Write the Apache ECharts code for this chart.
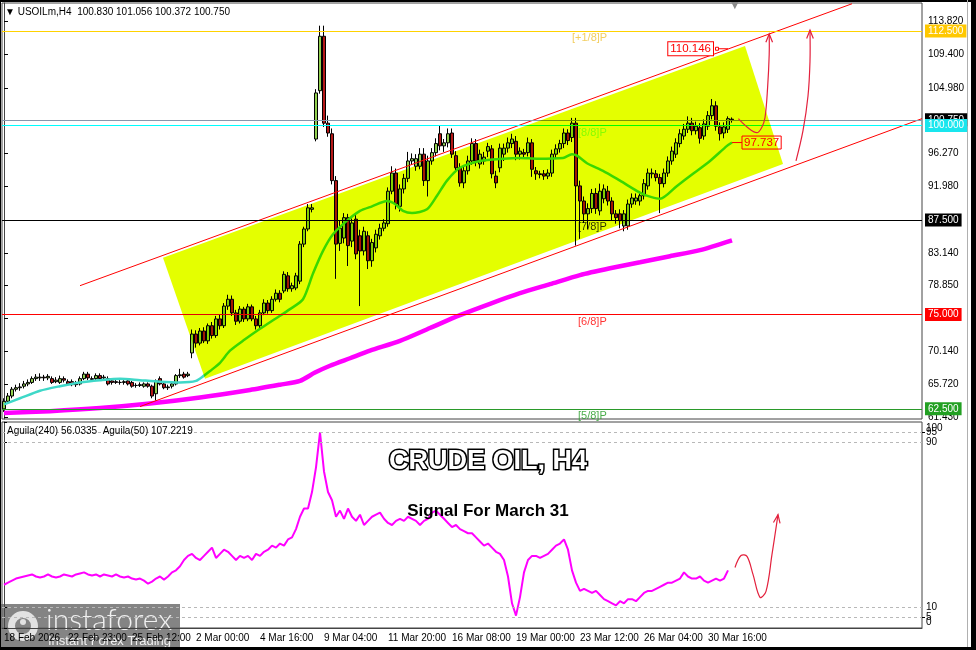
<!DOCTYPE html>
<html>
<head>
<meta charset="utf-8">
<script src="https://cdn.jsdelivr.net/npm/echarts@6/dist/echarts.min.js"></script>
<style>
  html, body { margin: 0; padding: 0; background: #fff; }
  #oilChart { width: 976px; height: 650px; }
</style>
</head>
<body>
<div id="oilChart"></div>
<script>
// ---- data ----
const slotCount = 230; // H4 bars that fit in the window, the last ~47 are empty (chart shift)

// [open, close, low, high]
const candles = [
  [62.5,63.5,62.1,63.9],[63.5,64.2,63.3,64.6],[64.2,65.1,63.9,65.4],[65.1,65.3,64.8,65.7],[65.3,65.4,64.9,65.9],
  [65.5,65.8,65.2,66.2],[65.8,66.0,65.5,66.4],[66.0,66.5,65.8,66.8],[66.5,66.7,66.2,67.1],[66.6,66.7,66.2,67.2],
  [66.7,66.6,66.2,67.0],[66.6,66.8,66.3,67.1],[66.5,66.0,65.8,66.8],[66.1,66.3,65.9,66.7],[66.0,66.5,65.8,66.9],
  [66.5,66.3,66.0,66.8],[66.1,65.8,65.6,66.4],[66.1,65.7,65.5,66.4],[65.8,65.7,65.4,66.2],[65.8,66.5,65.6,66.8],
  [66.5,67.1,66.3,67.4],[67.1,66.6,66.3,67.4],[66.5,66.4,66.1,66.8],[66.5,66.9,66.3,67.2],[66.9,66.5,66.3,67.2],
  [66.6,66.7,66.3,67.0],[66.5,65.8,65.6,66.8],[66.2,66.0,65.7,66.5],[66.1,66.0,65.8,66.4],[66.0,66.0,65.7,66.3],
  [66.0,66.1,65.7,66.3],[66.2,65.8,65.6,66.5],[66.0,65.5,65.3,66.2],[65.6,65.6,65.3,65.9],[65.6,65.7,65.4,66.0],
  [65.5,65.8,65.3,66.0],[65.8,65.5,65.3,66.0],[65.5,64.2,63.9,65.7],[64.5,66.2,63.6,66.4],[66.5,65.8,65.6,66.8],
  [65.8,65.3,65.1,66.0],[65.3,65.4,65.0,65.7],[65.5,65.8,65.2,66.0],[65.8,66.9,65.6,67.1],[66.9,67.0,66.6,67.8],
  [67.1,66.7,66.5,67.4],[66.9,67.1,66.7,67.4],
  [69.9,72.4,69.2,73.0],[72.4,71.2,70.6,72.9],[71.2,72.8,70.9,73.2],[72.8,71.5,71.2,73.3],[71.5,73.5,71.1,73.8],
  [73.5,72.2,71.8,74.0],[72.2,74.4,71.9,74.8],[74.4,73.5,73.0,75.0],[73.5,76.1,73.2,76.5],[76.1,77.0,75.6,77.6],
  [77.0,75.2,74.8,77.5],[75.2,74.1,73.6,75.6],[74.1,75.7,73.8,76.1],[75.7,74.4,74.0,76.0],[74.4,76.0,74.1,76.4],
  [76.0,74.4,74.1,76.3],[74.4,73.5,73.0,74.8],[73.5,75.2,73.2,75.6],[75.2,76.5,74.9,77.0],[76.5,75.5,75.1,76.9],
  [75.5,77.0,75.2,77.4],[77.0,77.8,76.7,78.3],[77.8,77.0,76.6,78.2],[78.1,80.3,77.8,80.7],[80.1,78.4,78.0,80.6],
  [78.4,78.8,78.0,79.2],[78.5,80.1,78.2,80.5],[79.4,84.3,79.0,84.7],[84.3,86.3,83.9,86.6],[86.3,89.1,86.0,89.6],
  [88.9,89.1,88.5,89.6],
  [98.2,104.3,97.9,104.8],[104.6,111.8,104.2,113.2],[111.8,100.3,99.8,113.2],[100.3,99.0,98.5,101.3],[98.9,92.7,92.2,99.6],
  [92.7,84.3,79.7,93.3],[84.4,86.4,83.4,87.4],[85.1,87.8,84.4,88.4],[87.8,84.1,81.4,88.3],[84.7,87.1,83.9,87.7],
  [87.6,83.0,82.3,88.2],[85.4,83.4,76.1,86.2],[83.4,86.0,82.8,86.6],[85.4,82.1,81.0,86.0],[82.1,84.5,81.3,85.0],
  [83.8,85.6,83.2,86.2],[85.4,86.4,84.9,87.0],[86.4,87.1,86.0,87.6],[87.0,91.3,86.6,91.8],[91.3,93.7,90.9,94.6],
  [93.7,89.6,88.9,94.3],[89.3,91.6,88.6,92.2],[91.6,93.0,91.0,93.6],[93.0,95.3,92.5,96.5],[95.3,95.6,94.8,96.3],
  [94.6,95.6,94.0,96.2],[94.6,96.2,94.2,97.0],[96.2,92.7,92.0,97.0],[92.7,95.3,90.6,96.0],[95.3,96.4,94.8,97.0],
  [96.4,97.6,95.9,98.3],[98.9,97.3,96.7,100.0],[97.3,97.7,96.5,98.2],[97.7,98.9,97.1,99.6],[99.0,96.2,95.7,99.6],
  [96.0,94.4,93.8,96.6],[94.4,92.4,91.9,95.0],[92.4,94.0,91.7,94.6],[94.0,95.3,93.5,96.0],[95.3,97.6,94.8,98.3],
  [97.6,95.3,94.6,98.2],[94.9,96.2,94.3,96.8],[95.3,95.8,94.8,96.5],[96.6,97.2,95.8,97.7],[96.9,93.6,93.0,97.4],
  [93.3,92.4,91.7,94.0],[94.4,97.0,93.8,97.6],[96.2,97.0,95.3,97.6],[97.0,97.7,96.4,98.4],[97.6,98.2,97.0,98.9],
  [97.9,96.2,95.4,98.6],[96.2,96.6,95.5,97.1],[96.4,96.2,95.6,96.9],[96.4,97.7,95.9,98.4],[97.7,94.2,93.2,98.2],
  [94.0,93.6,92.8,94.5],[93.6,93.5,93.0,94.0],[93.6,93.3,92.8,94.1],[93.3,93.7,92.9,94.2],[93.7,96.2,93.2,96.8],
  [96.2,96.9,95.6,97.5],[96.9,97.6,96.4,98.1],[97.6,99.0,97.0,99.6],[99.0,98.0,97.4,99.5],[98.4,100.3,97.8,101.0],
  [100.3,92.0,84.1,101.0],[92.0,90.0,85.0,92.7],[90.0,88.3,87.1,90.6],[88.3,89.0,86.3,89.7],[89.0,91.0,88.4,91.6],
  [91.0,89.0,88.3,91.7],[88.7,91.3,88.1,92.3],[90.3,91.6,89.7,92.2],[91.3,90.0,89.4,92.0],[90.0,88.3,87.4,90.5],
  [88.3,87.8,87.0,88.8],[88.3,87.4,86.4,88.9],[86.7,88.3,86.0,88.8],[86.7,89.6,86.2,90.2],[89.6,90.4,89.1,91.0],
  [90.0,90.4,89.5,91.0],[90.0,90.7,89.4,91.3],[90.7,92.3,90.2,92.9],[92.0,93.7,91.5,94.3],[93.6,93.7,93.0,94.3],
  [93.6,93.1,92.6,94.1],[93.1,92.3,88.4,93.6],[92.3,93.7,91.8,94.3],[93.7,95.3,93.2,95.9],[95.3,96.6,94.8,97.2],
  [96.2,97.7,95.7,98.3],[97.6,98.9,97.1,99.5],[98.6,99.5,98.1,100.2],[99.5,100.3,99.0,101.2],[100.3,99.3,98.7,101.0],
  [99.3,99.9,98.8,100.5],[99.7,98.3,97.6,100.3],[98.6,100.2,98.1,100.8],[99.9,101.3,99.4,101.9],[101.3,102.6,100.8,103.5],
  [102.6,99.9,99.3,103.2],[99.8,98.9,98.0,100.4],[99.0,99.8,98.3,100.4],[99.5,100.9,99.0,101.2],[100.83,100.75,100.37,101.06]
];

// Aguila oscillator, one value per bar
const aguila = [
  21,22,23,24,24.5,25,25.5,26,25,24.5,
  25,26,25,24.5,25,26,25.5,25,26,26.5,
  27,26,25.5,26,25,26,25.5,25,26,25,
  24.5,25,24,23.5,24,23,21.5,22.5,24,25,
  23.5,25,27,28,30,33,35,
  36,34,33,35,37,39,34,36,38,37,
  35,33,35,34,35,33,36,35,37,38,
  40,39,41,40,43,44,48,54,58,58,
  66,78,95,76,66,62,54,57,53,58,
  54,52,55,50,52,54,55,56,53,51,
  50,52,53,52,54,53,52,50,52,53,
  56,57,55,53,51,49,50,48,47,46,
  46,44,42,40,41,39,37,36,33,25,
  12,6,15,27,33,35,35,34,35,36,
  38,40,41,43,38,28,22,18,19,18,
  17,18,16,14,13,12,11,13,12,14,
  14,13,15,17,18,18,19,20,21,22,
  22,23,24,27,25,24,24,25,23,22,
  23,24,23,24,28
];

// moving averages, [bar index, price]
const maFast = [
  [0,63.1],[4,63.9],[9,64.9],[14,65.5],[19,66.0],[24,66.3],[29,66.5],[34,66.3],[39,66.1],[44,66.0],
  [48,66.2],[50,66.9],[51.5,67.5],[54,68.6],[56.5,70.2],[60.25,71.7],[64,73.1],[67.75,74.4],[71.5,75.7],
  [74.75,77.0],[77.25,80.4],[79.75,83.4],[82.25,85.6],[85.75,87.4],[89,88.7],[92,89.3],[95.75,90.0],
  [97.75,89.6],[99.75,88.7],[102,88.4],[105.75,88.9],[108.25,90.7],[110.75,92.7],[114,94.4],[119,95.3],
  [124.75,95.6],[129,95.7],[133.25,95.6],[139.75,95.7],[142,96.2],[143.25,96.0],[145.75,95.0],[149.75,94.0],
  [154,92.7],[159.75,90.9],[164,90.3],[168.25,92.0],[172.25,93.6],[176.5,95.3],[180.75,97.3],[182,97.737]
];
const ma200 = [
  [0,61.97],[11.5,62.2],[24,62.6],[36.5,63.2],[49,64.0],[61.5,65.0],[69,65.7],[74,66.2],[77.75,67.3],
  [81.5,68.2],[86.5,69.2],[91.5,70.2],[99,71.5],[106.5,73.2],[114,74.9],[121.5,76.4],[129,77.8],
  [136.5,79.0],[144,80.2],[151.5,81.1],[159,81.9],[166.5,82.7],[174,83.5],[182,84.8]
];

// trend channel, [bar index, price]
const channelTop = [[19,78.8],[212,116.1]];
const channelBottom = [[34,62.8],[229.5,100.9]];
const channelBox = [[39.75,82.5],[185.25,110.5],[194.75,94.9],[50.25,66.5]];

// Murrey levels and prices
const murreyLevels = [112.5, 100.0, 87.5, 75.0, 62.5];
const murreyNames = ['[+1/8]P', '[8/8]P', '[7/8]P', '[6/8]P', '[5/8]P'];
const lastPrice = 100.75;
const targetPrice = 110.146;
const maLastPrice = 97.737;

// forecast arrows, [bar index, value]
const arrowMain1 = [[183.6,100.89],[185.75,99.8],[188.2,99.04],[189.4,99.7],[190.25,101.03],[190.9,105.0],[191.3,109.4],[191.3,112.1]];
const arrowMain2 = [[198,95.3],[199.75,99.3],[201,103.9],[201.5,108.5],[201.5,112.6]];
const arrowOsc = [[182.75,29.4],[184.25,35.2],[185.75,34.8],[187.25,26.0],[189,14.9],[190.5,17.8],[192,35.7],[193.5,55.0]];

// axis ticks
const priceTicks = [61.43, 65.72, 70.14, 74.43, 78.85, 83.14, 91.98, 96.27, 104.98, 109.40, 113.82];
const oscTicksMain = [0, 10, 90, 100];
const oscTicksInner = [5, 95];
const oscLevels = [5, 10, 90, 95];
const timeTickIndex = [0, 16, 32, 48, 64, 80, 96, 112, 128, 144, 160, 176];
const timeTickLabels = ['18 Feb 2026', '22 Feb 23:00', '25 Feb 12:00', '2 Mar 00:00', '4 Mar 16:00', '9 Mar 04:00',
  '11 Mar 20:00', '16 Mar 08:00', '19 Mar 00:00', '23 Mar 12:00', '26 Mar 04:00', '30 Mar 16:00'];

// ---- styles ----
const FONT = 'Liberation Sans';
const BULL = '#92d050';
const BEAR = '#b41818';
const CHANNEL_FILL = '#e4ff00';
const ARROW = '#e3213d';
const levelLine = ['#ffd200', '#00ffff', '#000000', '#ff0000', '#2a9a2a'];
const levelBox = ['#ffc800', '#19e6ee', '#000000', '#ff0000', '#23a023'];
const levelText = ['#efc23a', '#7cfc00', '#000000', '#ff0000', '#1f9a1f'];
const NAME_X = 143.5;

const chart = echarts.init(document.getElementById('oilChart'));
const slots = Array.from({ length: slotCount }, (_, i) => i);
const isTimeTick = (i) => timeTickIndex.indexOf(i) >= 0;

function arrowSeries(points, xAxisIndex, yAxisIndex) {
  return {
    type: 'custom',
    xAxisIndex, yAxisIndex,
    silent: true,
    z: 25,
    data: [points[0]],
    renderItem: (params, api) => {
      const pts = points.map((p) => api.coord(p));
      const tip = pts[pts.length - 1];
      const prev = pts[pts.length - 2];
      const ang = Math.atan2(tip[1] - prev[1], tip[0] - prev[0]);
      const wing = (s) => [tip[0] - 9 * Math.cos(ang + s), tip[1] - 9 * Math.sin(ang + s)];
      return {
        type: 'group',
        children: [
          { type: 'polyline', shape: { points: pts, smooth: 0.35 }, style: { stroke: ARROW, lineWidth: 1.2, fill: null } },
          { type: 'polyline', shape: { points: [wing(0.38), tip, wing(-0.38)] }, style: { stroke: ARROW, lineWidth: 1.2, fill: null } }
        ]
      };
    }
  };
}

const levelMarks = [];
murreyLevels.forEach((v, i) => {
  levelMarks.push({
    yAxis: v,
    lineStyle: { color: levelLine[i], width: 1, type: 'solid' },
    label: { backgroundColor: levelBox[i] }
  });
  if (i === 0) {
    levelMarks.push({
      yAxis: lastPrice,
      lineStyle: { color: '#8796ab', width: 1, type: 'solid' },
      label: { backgroundColor: '#000' }
    });
  }
});

const oscAxisBase = {
  gridIndex: 1, type: 'value', position: 'right', min: 0, max: 100,
  splitLine: { show: false }
};

const option = {
  backgroundColor: '#fff',
  animation: false,
  textStyle: { fontFamily: FONT },
  title: [
    { text: '\u25BC USOILm,H4  100.830 101.056 100.372 100.750', left: 5, top: 7, padding: 0,
      textStyle: { fontSize: 10, fontWeight: 'normal', color: '#000', fontFamily: FONT } },
    { text: 'Aguila(240) 56.0335  Aguila(50) 107.2219', left: 7, top: 426, padding: 0,
      textStyle: { fontSize: 10, fontWeight: 'normal', color: '#000', fontFamily: FONT } },
    { text: 'CRUDE OIL, H4', left: 'center', top: 448, padding: 0,
      textStyle: { fontSize: 27, fontWeight: 'bold', color: '#fff', fontFamily: FONT, textBorderColor: '#000', textBorderWidth: 3 } },
    { text: 'Signal For March 31', left: 'center', top: 503, padding: 0,
      textStyle: { fontSize: 17, fontWeight: 'bold', color: '#000', fontFamily: FONT } }
  ],
  grid: [
    { left: 2, top: 3, width: 920, height: 416, show: true, borderColor: '#444', borderWidth: 1 },
    { left: 2, top: 422, width: 920, height: 206, show: true, borderColor: '#444', borderWidth: 1 }
  ],
  xAxis: [
    { gridIndex: 0, type: 'category', data: slots, boundaryGap: true, show: false },
    { gridIndex: 0, type: 'value', min: -0.5, max: slotCount - 0.5, show: false },
    { gridIndex: 1, type: 'category', data: slots, boundaryGap: true,
      axisLine: { lineStyle: { color: '#444' } },
      axisTick: { interval: isTimeTick, alignWithLabel: true, length: 4, lineStyle: { color: '#000' } },
      axisLabel: { interval: isTimeTick, align: 'left', color: '#000', fontSize: 10, margin: 5,
        formatter: (v, i) => timeTickLabels[timeTickIndex.indexOf(i)] || '' },
      splitLine: { show: false } },
    { gridIndex: 1, type: 'value', min: -0.5, max: slotCount - 0.5, show: false }
  ],
  yAxis: [
    { gridIndex: 0, type: 'value', position: 'right', min: 61.16, max: 116.2,
      axisLine: { show: true, lineStyle: { color: '#444' } },
      axisTick: { show: true, length: 4, customValues: priceTicks, lineStyle: { color: '#000' } },
      axisLabel: { customValues: priceTicks, formatter: (v) => v.toFixed(3), color: '#000', fontSize: 10, margin: 6,
        showMinLabel: true, showMaxLabel: true, hideOverlap: false },
      splitLine: { show: false } },
    Object.assign({}, oscAxisBase, {
      axisLine: { show: true, lineStyle: { color: '#444' } },
      axisTick: { show: true, length: 3, customValues: oscTicksMain, lineStyle: { color: '#000' } },
      axisLabel: { customValues: oscTicksMain, color: '#000', fontSize: 10, margin: 4,
        showMinLabel: true, showMaxLabel: true, hideOverlap: false,
        formatter: (v) => (v === 100 ? '{top|100}' : v === 0 ? '{bot|0}' : String(v)),
        rich: { top: { padding: [12, 0, 0, 0], fontSize: 10 }, bot: { padding: [0, 0, 12, 0], fontSize: 10 } } }
    }),
    Object.assign({}, oscAxisBase, {
      axisLine: { show: false },
      axisTick: { show: true, length: 3, customValues: oscTicksInner, lineStyle: { color: '#000' } },
      axisLabel: { customValues: oscTicksInner, color: '#000', fontSize: 10, margin: 4,
        showMinLabel: true, showMaxLabel: true, hideOverlap: false }
    })
  ],
  series: [
    {
      name: 'USOILm', type: 'candlestick', xAxisIndex: 0, yAxisIndex: 0, z: 3,
      barWidth: 3, data: candles, silent: true,
      itemStyle: { color: BULL, color0: BEAR, borderColor: '#000', borderColor0: '#000', borderWidth: 1 },
      markLine: {
        silent: true, symbol: ['none', 'none'], animation: false,
        label: { show: true, position: 'end', distance: 3, color: '#fff', fontSize: 10, fontFamily: FONT,
          padding: [2, 3, 1, 3], formatter: (p) => p.value.toFixed(3) },
        data: levelMarks
      }
    },
    { name: 'MA fast', type: 'line', xAxisIndex: 1, yAxisIndex: 0, data: maFast, smooth: 0.25,
      symbol: 'none', lineStyle: { color: '#3fd8c8', width: 2.5 }, silent: true, z: 4 },
    { name: 'MA 200', type: 'line', xAxisIndex: 1, yAxisIndex: 0, data: ma200, smooth: 0.25,
      symbol: 'none', lineStyle: { color: '#ff00ff', width: 4.5 }, silent: true, z: 4 },
    { type: 'line', xAxisIndex: 1, yAxisIndex: 0, data: channelTop, symbol: 'none',
      lineStyle: { color: '#ff0000', width: 1 }, silent: true, z: 4 },
    { type: 'line', xAxisIndex: 1, yAxisIndex: 0, data: channelBottom, symbol: 'none',
      lineStyle: { color: '#ff0000', width: 1 }, silent: true, z: 4 },
    { type: 'scatter', xAxisIndex: 1, yAxisIndex: 0, symbolSize: 0, silent: true, z: 4,
      data: murreyLevels.map((v, i) => ({ value: [i === 0 ? NAME_X - 1.5 : NAME_X, v], name: murreyNames[i],
        label: { color: levelText[i] } })),
      label: { show: true, position: [0, 2], align: 'left', verticalAlign: 'top', fontSize: 11, fontFamily: FONT,
        formatter: (p) => p.name } },
    {
      type: 'custom', xAxisIndex: 1, yAxisIndex: 0, silent: true, z: 20, data: [channelBox[0]],
      blendMode: 'multiply',
      renderItem: (params, api) => ({
        type: 'polygon',
        shape: { points: channelBox.map((p) => api.coord(p)) },
        style: { fill: CHANNEL_FILL, blend: 'multiply' }
      })
    },
    { type: 'line', xAxisIndex: 1, yAxisIndex: 0, silent: true, z: 25,
      data: [[178.25, targetPrice], [181, targetPrice]],
      symbol: (v, p) => (p.dataIndex === 0 ? 'rect' : 'none'), symbolSize: 3,
      itemStyle: { color: '#fff', borderColor: '#ff0000', borderWidth: 1 },
      lineStyle: { color: '#ff0000', width: 1 },
      label: { show: true, position: 'left', distance: 2, color: '#ff0000', fontSize: 11.5, fontFamily: FONT,
        borderColor: '#ff0000', borderWidth: 1, backgroundColor: '#fff', padding: [1, 2, 0, 2],
        formatter: (p) => (p.dataIndex === 0 ? targetPrice.toFixed(3) : '') } },
    { type: 'line', xAxisIndex: 1, yAxisIndex: 0, silent: true, z: 25,
      data: [[182, maLastPrice], [184.5, maLastPrice]], symbol: 'none',
      lineStyle: { color: '#ff0000', width: 1 },
      endLabel: { show: true, distance: 0, color: '#ff0000', fontSize: 11.5, fontFamily: FONT,
        borderColor: '#ff0000', borderWidth: 1, padding: [1, 2, 0, 2], formatter: () => maLastPrice.toFixed(3) } },
    arrowSeries(arrowMain1, 1, 0),
    arrowSeries(arrowMain2, 1, 0),
    {
      name: 'Aguila(240)', type: 'line', xAxisIndex: 2, yAxisIndex: 1, data: aguila,
      symbol: 'none', lineStyle: { color: '#ff00ff', width: 2 }, silent: true, z: 4,
      markLine: { silent: true, symbol: ['none', 'none'], label: { show: false },
        lineStyle: { color: '#b8b8b8', width: 1, type: [3, 3] },
        data: oscLevels.map((v) => ({ yAxis: v })) }
    },
    arrowSeries(arrowOsc, 3, 1)
  ],
  graphic: [
    { type: 'text', left: 731, top: 0, style: { text: '\u25BC', fill: '#8a8a8a', font: '10px "DejaVu Sans"' }, silent: true },
    { type: 'group', left: 0, top: 604, silent: true, children: [
      { type: 'rect', shape: { x: 0, y: 0, width: 180, height: 46 }, style: { fill: 'rgba(105,105,105,0.82)' } },
      { type: 'ring', shape: { cx: 23, cy: 22, r: 15, r0: 8 }, style: { fill: '#e2e2e2' } },
      { type: 'circle', shape: { cx: 23, cy: 18, r: 3 }, style: { fill: '#e2e2e2' } },
      { type: 'text', style: { x: 46, y: 1, text: 'instaforex', fill: '#f0f0f0', font: '300 30px Lato' } },
      { type: 'text', style: { x: 48, y: 31, text: 'Instant Forex Trading', fill: '#f0f0f0', font: '13px "Liberation Sans"' } }
    ] },
    { type: 'rect', left: 0, top: 0, shape: { width: 976, height: 2 }, style: { fill: '#000' }, silent: true },
    { type: 'rect', left: 0, top: 0, shape: { width: 1, height: 650 }, style: { fill: '#000' }, silent: true },
    { type: 'rect', left: 967, top: 0, shape: { width: 1, height: 650 }, style: { fill: '#b0b0b0' }, silent: true },
    { type: 'rect', left: 971, top: 0, shape: { width: 5, height: 650 }, style: { fill: '#000' }, silent: true },
    { type: 'rect', left: 0, top: 647, shape: { width: 976, height: 3 }, style: { fill: '#000' }, silent: true }
  ]
};

option && chart.setOption(option);
</script>
</body>
</html>
